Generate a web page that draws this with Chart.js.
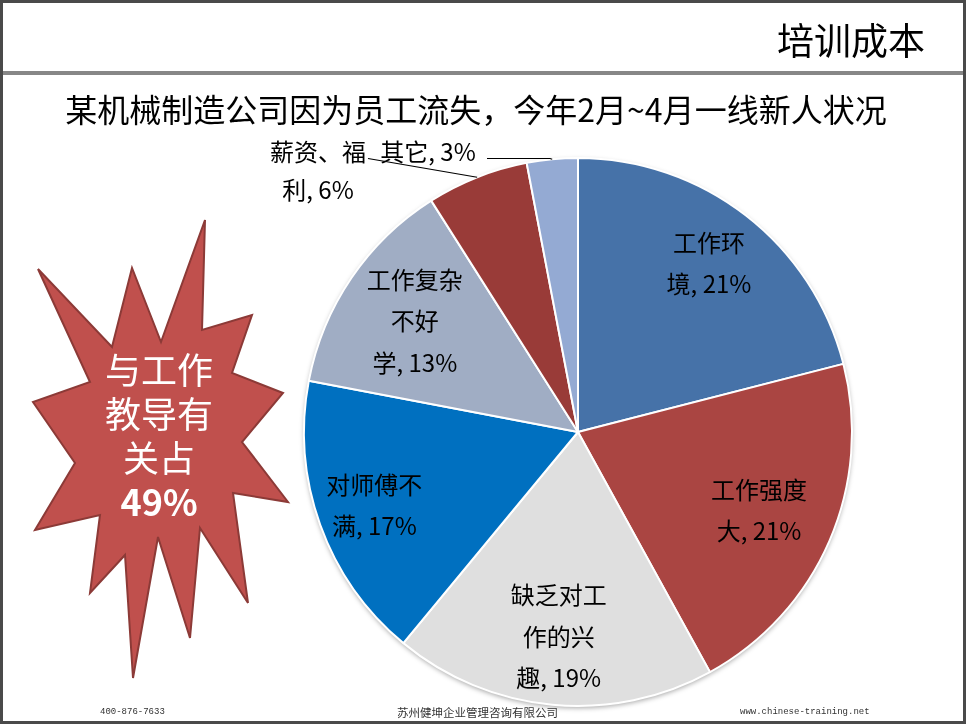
<!DOCTYPE html>
<html><head><meta charset="utf-8">
<script src="https://cdn.jsdelivr.net/npm/chart.js@4/dist/chart.umd.min.js"></script>
<style>
html,body{margin:0;padding:0;background:#fff;}
#page{position:relative;width:968px;height:727px;overflow:hidden;background:#fff;font-family:"Noto Sans CJK SC","Noto Sans",sans-serif;}
#frame{position:absolute;left:0;top:0;width:960px;height:718px;border:3px solid #4a4a4a;}
#bar{position:absolute;left:3px;top:71px;width:960px;height:4px;background:#878787;}
#header{position:absolute;right:43px;top:19px;font-size:37px;line-height:40px;color:#000;}
#title{position:absolute;left:0;width:952px;top:86px;text-align:center;font-size:32px;line-height:44px;color:#000;}
#star{position:absolute;left:0;top:0;}
#startext{position:absolute;left:59px;width:200px;top:346px;text-align:center;color:#fff;font-size:36px;line-height:44px;}
#startext b{font-weight:700;}
.foot{position:absolute;top:704px;font-size:10px;line-height:16px;color:#333;}
#f1{left:100px;font-family:"Liberation Mono",monospace;font-size:9px;}
#f2{left:397px;font-family:"Noto Sans CJK SC",serif;font-size:11.5px;}
#f3{left:740px;font-family:"Liberation Mono",monospace;font-size:9px;}
canvas{position:absolute;left:0;top:0;}
</style></head>
<body><div id="page">
<canvas id="c" width="968" height="727"></canvas>
<div id="frame"></div>
<div id="bar"></div>
<div id="header">培训成本</div>
<div id="title">某机械制造公司因为员工流失，今年2月~4月一线新人状况</div>
<svg id="star" width="968" height="727"><polygon points="38,269 112,347 132,268 161,342 205,220 202,330 252,315 232,373 283,393 242,442 288,502 233,493 248,603 200,528 190,638 158,537 133,678 125,555 90,593 100,515 35,530 75,463 33,402 90,382" fill="#C0504D" stroke="#8C3A37" stroke-width="2" stroke-linejoin="miter"/></svg>
<div id="startext">与工作<br>教导有<br>关占<br><b>49%</b></div>
<div class="foot" id="f1">400-876-7633</div>
<div class="foot" id="f2">苏州健坤企业管理咨询有限公司</div>
<div class="foot" id="f3">www.chinese-training.net</div>
</div>
<script>
const categories = ["工作环境", "工作强度大", "缺乏对工作的兴趣", "对师傅不满", "工作复杂不好学", "薪资、福利", "其它"];
const values = [21, 21, 19, 17, 13, 6, 3];
const sliceColors = ["#4672A8", "#AA4542", "#DFDFDF", "#0070C0", "#A0ADC4", "#993B38", "#94AAD3"];
const lineBreaks = [[3], [4], [4, 7], [4], [4, 6], [4], []];

function labelLines(i) {
  const full = categories[i] + ", " + values[i] + "%";
  const cuts = lineBreaks[i];
  const out = []; let prev = 0;
  cuts.forEach(c => { out.push(full.slice(prev, c)); prev = c; });
  out.push(full.slice(prev));
  return out;
}

const shadowPlugin = {
  id: 'pieShadow',
  beforeDatasetsDraw(chart) {
    const a = chart.getDatasetMeta(0).data[0];
    const ctx = chart.ctx;
    ctx.save();
    ctx.shadowColor = 'rgba(0,0,0,0.35)';
    ctx.shadowBlur = 5;
    ctx.shadowOffsetY = 2;
    ctx.fillStyle = '#ddd';
    ctx.beginPath();
    ctx.arc(a.x, a.y, a.outerRadius, 0, Math.PI * 2);
    ctx.fill();
    ctx.restore();
  }
};

const labelPlugin = {
  id: 'sliceLabels',
  afterDatasetsDraw(chart, args, opts) {
    const ctx = chart.ctx;
    const meta = chart.getDatasetMeta(0);
    ctx.save();
    ctx.font = '24px "Noto Sans CJK SC"';
    ctx.fillStyle = '#000';
    ctx.textAlign = 'center';
    ctx.textBaseline = 'middle';
    meta.data.forEach((arc, i) => {
      const mid = (arc.startAngle + arc.endAngle) / 2;
      const lines = labelLines(i);
      const o = opts.outside[i];
      if (o) {
        const ax = arc.x + Math.cos(mid) * arc.outerRadius;
        const ay = arc.y + Math.sin(mid) * arc.outerRadius;
        lines.forEach((t, k) => ctx.fillText(t, o.x, o.y + k * 38));
        ctx.strokeStyle = '#000';
        ctx.lineWidth = 1.2;
        ctx.beginPath();
        ctx.moveTo(o.lineStart[0], o.lineStart[1]);
        if (o.lineMid) ctx.lineTo(o.lineMid[0], o.lineMid[1]);
        ctx.lineTo(ax, ay);
        ctx.stroke();
      } else {
        const r = arc.outerRadius * opts.radiusFactor[i];
        const cx = arc.x + Math.cos(mid) * r;
        const cy = arc.y + Math.sin(mid) * r;
        lines.forEach((t, k) => ctx.fillText(t, cx, cy + (k - (lines.length - 1) / 2) * 41.5));
      }
    });
    ctx.restore();
  }
};

new Chart(document.getElementById('c'), {
  type: 'pie',
  data: {
    labels: categories,
    datasets: [{ data: values, backgroundColor: sliceColors, borderColor: '#ffffff', borderWidth: 2 }]
  },
  options: {
    responsive: false,
    animation: false,
    layout: { padding: { left: 303, right: 115, top: 157, bottom: 20 } },
    plugins: {
      legend: { display: false }, tooltip: { enabled: false }, title: { display: false },
      sliceLabels: {
        radiusFactor: [0.78, 0.72, 0.75, 0.79, 0.72],
        outside: { 5: { x: 318, y: 152, lineStart: [368, 158.5] }, 6: { x: 428, y: 152, lineStart: [487, 158.5], lineMid: [550, 158.5] } }
      }
    }
  },
  plugins: [shadowPlugin, labelPlugin]
});
</script>
</body></html>
